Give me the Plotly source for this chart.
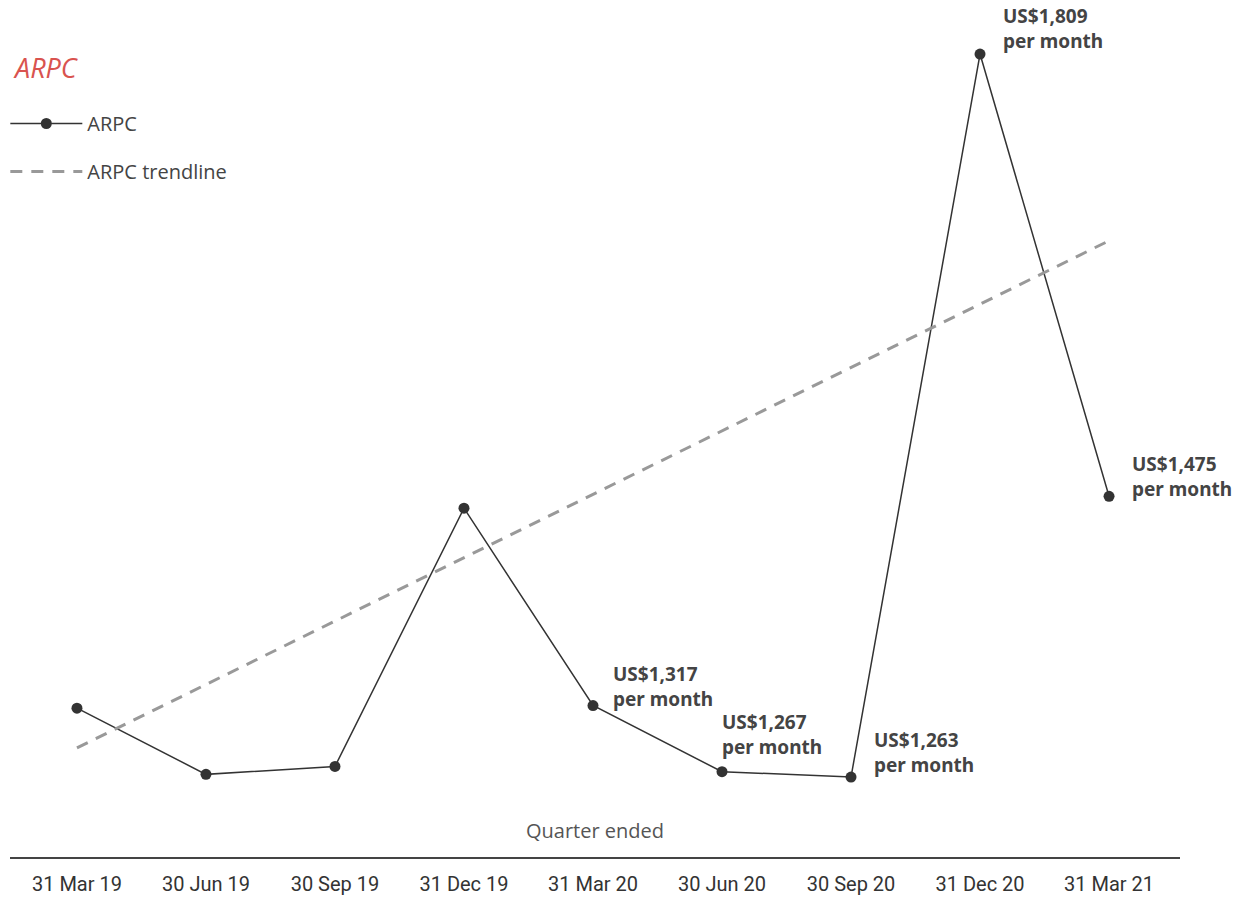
import plotly.graph_objects as go

# Quarterly ARPC (US$ per month)
quarters = ["31 Mar 19", "30 Jun 19", "30 Sep 19", "31 Dec 19", "31 Mar 20",
            "30 Jun 20", "30 Sep 20", "31 Dec 20", "31 Mar 21"]
arpc = [1315, 1265, 1271, 1466, 1317, 1267, 1263, 1809, 1475]

# Trendline end points (first and last quarter)
trend_quarters = [0, 8]
trend_values = [1285, 1668]

# Quarters whose value is labelled on the chart
labelled = [4, 5, 6, 7, 8]

x_idx = list(range(len(quarters)))

fig = go.Figure()

fig.add_trace(go.Scatter(
    x=x_idx, y=arpc, mode="lines+markers", name="ARPC",
    line=dict(color="#333333", width=1.5),
    marker=dict(color="#333333", size=11),
    legendgroup="a",
))
fig.add_trace(go.Scatter(
    x=trend_quarters, y=trend_values, mode="lines", name="ARPC trendline",
    line=dict(color="#999999", width=3, dash="12px,9px"),
    legendgroup="b",
))

label_font = dict(family="Noto Sans, Open Sans, sans-serif", size=19, color="#444444")
# per-label offsets (px) so the value labels sit clear of the line
xshifts = {4: 18, 5: -2, 6: 21, 7: 21, 8: 21}
yshifts = {4: -8, 5: 10, 6: -3, 7: -2, 8: -8}
for i in labelled:
    fig.add_annotation(
        x=i, y=arpc[i], xref="x", yref="y",
        text=f"<b>US${arpc[i]:,}<br>per month</b>",
        showarrow=False, xanchor="left", yanchor="bottom", align="left",
        xshift=xshifts[i], yshift=yshifts[i], font=label_font,
    )

text_font = dict(family="Open Sans, sans-serif", size=20, color="#555555")

fig.add_annotation(
    text="Quarter ended", x=0.5, y=0, xref="paper", yref="paper",
    yanchor="middle", yshift=27, showarrow=False, font=text_font,
)

fig.add_annotation(
    text="<i>ARPC</i>", x=(46 - 10) / 1170, y=1 - 67 / 857,
    xref="paper", yref="paper", xanchor="center", yanchor="middle",
    showarrow=False,
    font=dict(family="Open Sans, sans-serif", size=27, color="#D9534F"),
)

fig.update_layout(
    width=1238, height=898,
    margin=dict(l=10, r=58, t=0, b=41),
    paper_bgcolor="white", plot_bgcolor="white",
    showlegend=True,
    legend=dict(
        x=-0.004, y=1 - 104 / 857,
        xanchor="left", yanchor="top",
        font=dict(family="Open Sans, sans-serif", size=20, color="#444444"),
        tracegroupgap=19, itemwidth=72, traceorder="grouped",
        bgcolor="rgba(0,0,0,0)",
    ),
    xaxis=dict(
        range=[-0.519, 8.55], tickvals=x_idx, ticktext=quarters,
        showgrid=False, zeroline=False, showline=True,
        linecolor="#444444", linewidth=2, automargin=False,
        ticks="outside", ticklen=8, tickcolor="rgba(0,0,0,0)",
        tickfont=dict(family="Roboto, sans-serif", size=20, color="#333333"),
    ),
    yaxis=dict(range=[1202.6, 1849.8], visible=False),
)

fig.write_html("out.html")
